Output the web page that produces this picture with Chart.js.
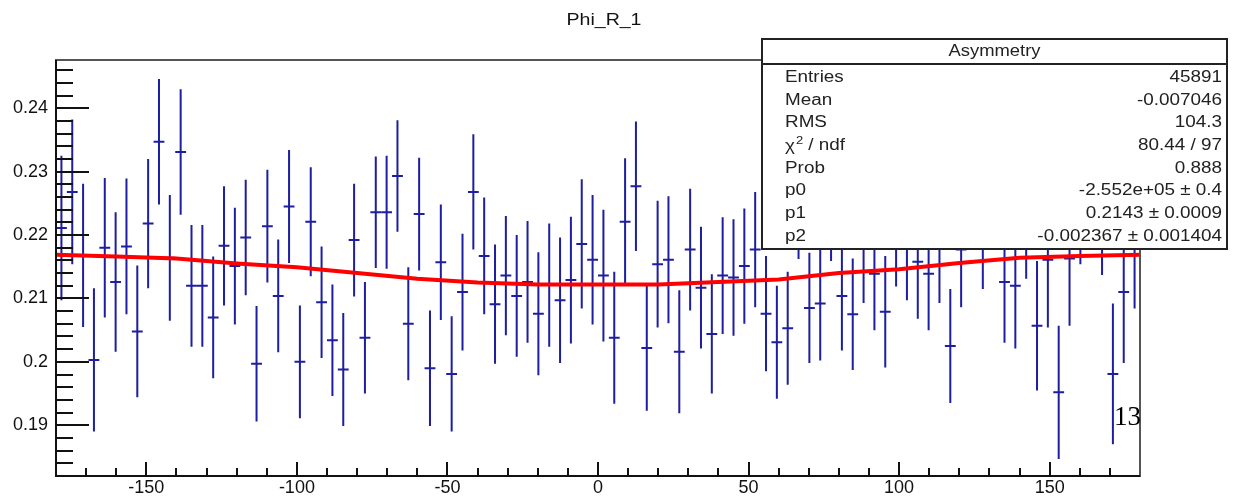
<!DOCTYPE html>
<html>
<head>
<meta charset="utf-8">
<title>Phi_R_1</title>
<script src="https://cdn.jsdelivr.net/npm/chart.js@4.4.1/dist/chart.umd.min.js"></script>
<style>
  html, body { margin: 0; padding: 0; background: #fff; }
  canvas { display: block; }
</style>
</head>
<body>
<canvas id="chart" width="1256" height="496"></canvas>
<script>
// =========================
// Histogram Phi_R_1 — 100 bins, -180..180
// =========================
const BIN_LOW = -180;
const BIN_WIDTH = 3.6;

// bin contents
const asymValues = [
  0.2211, 0.2268, 0.2168, 0.2003, 0.2180, 0.2126, 0.2182, 0.2048, 0.2218, 0.2347,
  0.2164, 0.2331, 0.2120, 0.2120, 0.2070, 0.2183, 0.2151, 0.2196, 0.1997, 0.2214,
  0.2104, 0.2245, 0.2000, 0.2221, 0.2094, 0.2034, 0.1988, 0.2192, 0.2038, 0.2236,
  0.2236, 0.2293, 0.2060, 0.2233, 0.1990, 0.2157, 0.1981, 0.2110, 0.2268, 0.2167,
  0.2091, 0.2136, 0.2104, 0.2126, 0.2076, 0.2121, 0.2097, 0.2129, 0.2186, 0.2161,
  0.2136, 0.2038, 0.2221, 0.2277, 0.2022, 0.2154, 0.2161, 0.2016, 0.2177, 0.2117,
  0.2044, 0.2136, 0.2133, 0.2151, 0.2177, 0.2076, 0.2031, 0.2053, 0.2251, 0.2085,
  0.2092, 0.2247, 0.2104, 0.2075, 0.2181, 0.2139, 0.2079, 0.2208, 0.2186, 0.2158,
  0.2139, 0.2183, 0.2025, 0.2177, 0.2285, 0.2207, 0.2290, 0.2126, 0.2120, 0.2230,
  0.2057, 0.2161, 0.1952, 0.2163, 0.2262, 0.2300, 0.2247, 0.1981, 0.2110, 0.2197
];

// bin errors
const asymErrors = [
  0.0114, 0.0114, 0.0113, 0.0113, 0.0110, 0.0110, 0.0107, 0.0104, 0.0102, 0.0099,
  0.0099, 0.0099, 0.0096, 0.0096, 0.0096, 0.0094, 0.0092, 0.0091, 0.0091, 0.0089,
  0.0089, 0.0089, 0.0089, 0.0086, 0.0088, 0.0088, 0.0089, 0.0089, 0.0088, 0.0088,
  0.0089, 0.0088, 0.0089, 0.0089, 0.0091, 0.0091, 0.0091, 0.0092, 0.0091, 0.0092,
  0.0094, 0.0094, 0.0096, 0.0096, 0.0097, 0.0097, 0.0099, 0.0100, 0.0102, 0.0102,
  0.0104, 0.0104, 0.0100, 0.0102, 0.0099, 0.0100, 0.0100, 0.0097, 0.0096, 0.0096,
  0.0094, 0.0092, 0.0092, 0.0091, 0.0091, 0.0091, 0.0089, 0.0089, 0.0089, 0.0087,
  0.0090, 0.0088, 0.0086, 0.0088, 0.0088, 0.0089, 0.0088, 0.0089, 0.0089, 0.0090,
  0.0089, 0.0090, 0.0090, 0.0091, 0.0092, 0.0092, 0.0094, 0.0096, 0.0099, 0.0099,
  0.0102, 0.0107, 0.0105, 0.0106, 0.0108, 0.0110, 0.0110, 0.0111, 0.0112, 0.0113
];

// fitted curve, sampled off the red line
const fitPhi = [-180, -160, -140, -120, -100, -80, -60, -40, -20, 0, 20, 40, 60, 80, 100, 120, 140, 160, 180];
const fitValues = [0.2169, 0.2166, 0.2163, 0.2155, 0.2149, 0.2140, 0.2131, 0.2125, 0.2122, 0.2122,
                   0.2122, 0.2126, 0.2130, 0.2140, 0.2146, 0.2156, 0.2164, 0.2167, 0.2169];

// axes
const xTickValues = [-150, -100, -50, 0, 50, 100, 150];
const xTickLabels = ["-150", "-100", "-50", "0", "50", "100", "150"];
const yTickValues = [0.19, 0.20, 0.21, 0.22, 0.23, 0.24];
const yTickLabels = ["0.19", "0.2", "0.21", "0.22", "0.23", "0.24"];

// stats box
const statsTitle = "Asymmetry";
const statsLabels = ["Entries", "Mean", "RMS", "chi2", "Prob", "p0", "p1", "p2"];
const statsValues = ["45891", "-0.007046", "104.3", "80.44 / 97", "0.888",
                     "-2.552e+05 \u00b1 0.4", "0.2143 \u00b1 0.0009", "-0.002367 \u00b1 0.001404"];

const FONT = '"Liberation Sans", Arial, Helvetica, sans-serif';
const HIST_COLOR = "#1e1ea0";

const histPoints = asymValues.map((v, i) => ({ x: BIN_LOW + BIN_WIDTH * (i + 0.5), y: v }));
const fitPoints = fitPhi.map((p, i) => ({ x: p, y: fitValues[i] }));

// stretched text helper (the original render is slightly wide)
function wideText(ctx, text, x, y, size, align, sx) {
  ctx.save();
  ctx.font = size + "px " + FONT;
  ctx.textBaseline = "middle";
  ctx.textAlign = align;
  ctx.translate(x, y);
  ctx.scale(sx, 1);
  ctx.fillText(text, 0, 0);
  ctx.restore();
}

// =========================
// ERROR BARS (under the fit line)
// =========================
const errorBars = {
  id: "errorBars",
  beforeDatasetsDraw(chart) {
    const { ctx, chartArea, scales: { x, y } } = chart;
    ctx.save();
    ctx.beginPath();
    ctx.rect(chartArea.left, chartArea.top, chartArea.right - chartArea.left, chartArea.bottom - chartArea.top);
    ctx.clip();
    ctx.strokeStyle = HIST_COLOR;
    ctx.lineWidth = 2;
    histPoints.forEach((p, i) => {
      const px = x.getPixelForValue(p.x);
      const x0 = x.getPixelForValue(p.x - BIN_WIDTH / 2);
      const x1 = x.getPixelForValue(p.x + BIN_WIDTH / 2);
      const py = y.getPixelForValue(p.y);
      const yTop = y.getPixelForValue(p.y + asymErrors[i]);
      const yBot = y.getPixelForValue(p.y - asymErrors[i]);
      ctx.beginPath();
      ctx.moveTo(px, yTop);
      ctx.lineTo(px, yBot);
      ctx.moveTo(x0, py);
      ctx.lineTo(x1, py);
      ctx.stroke();
    });
    ctx.restore();
  }
};

// =========================
// FRAME, TICKS, STATS BOX, TITLE
// =========================
const decorations = {
  id: "decorations",
  afterDraw(chart) {
    const { ctx, chartArea: a, scales: { x, y } } = chart;
    ctx.save();

    // frame
    ctx.strokeStyle = "#555";
    ctx.lineWidth = 2;
    ctx.strokeRect(a.left, a.top, a.right - a.left, a.bottom - a.top);
    ctx.strokeStyle = "#111";
    ctx.beginPath();
    ctx.moveTo(a.left, a.top);
    ctx.lineTo(a.left, a.bottom);
    ctx.lineTo(a.right, a.bottom);
    ctx.stroke();

    // y ticks every 0.002, pointing in
    ctx.lineWidth = 2;
    for (let k = 91; k <= 123; k++) {
      const py = Math.round(y.getPixelForValue(k * 0.002));
      if (py < a.top || py > a.bottom) continue;
      const len = k % 5 === 0 ? 33 : 17;
      ctx.beginPath();
      ctx.moveTo(a.left, py);
      ctx.lineTo(a.left + len, py);
      ctx.stroke();
    }
    // x ticks every 10, pointing up
    for (let k = -17; k <= 17; k++) {
      const px = Math.round(x.getPixelForValue(k * 10));
      const len = k % 5 === 0 ? 14 : 8;
      ctx.beginPath();
      ctx.moveTo(px, a.bottom);
      ctx.lineTo(px, a.bottom - len);
      ctx.stroke();
    }

    // stats box
    const bx = 762, by = 39, bw = 465, bh = 210;
    ctx.fillStyle = "#fff";
    ctx.fillRect(bx, by, bw, bh);
    ctx.strokeStyle = "#222";
    ctx.lineWidth = 2;
    ctx.strokeRect(bx, by, bw, bh);
    ctx.beginPath();
    ctx.moveTo(bx, 64);
    ctx.lineTo(bx + bw, 64);
    ctx.stroke();

    ctx.fillStyle = "#222";
    wideText(ctx, statsTitle, bx + bw / 2, 52, 16, "center", 1.15);
    statsLabels.forEach((lab, i) => {
      const ry = 77.5 + 22.7 * i;
      if (lab === "chi2") {
        ctx.save();
        ctx.font = "16px " + FONT;
        const sx = 1.18;
        const wChi = ctx.measureText("\u03c7").width * sx;
        wideText(ctx, "\u03c7", 785, ry + 1, 16, "left", sx);
        wideText(ctx, "2", 785 + wChi + 1, ry - 5, 11, "left", sx);
        ctx.font = "11px " + FONT;
        const w2 = ctx.measureText("2").width * sx;
        wideText(ctx, " / ndf", 785 + wChi + w2 + 1, ry, 16, "left", sx);
        ctx.restore();
      } else {
        wideText(ctx, lab, 785, ry, 16, "left", 1.18);
      }
      wideText(ctx, statsValues[i], 1222, ry, 16, "right", 1.18);
    });

    // title
    ctx.fillStyle = "#111";
    wideText(ctx, "Phi_R_1", 604, 20, 17, "center", 1.15);

    // page number from the slide
    ctx.fillStyle = "#000";
    ctx.font = '27px "Liberation Serif", "DejaVu Serif", serif';
    ctx.textAlign = "left";
    ctx.textBaseline = "alphabetic";
    ctx.fillText("13", 1114, 425);

    ctx.restore();
  }
};

// =========================
// CHART
// =========================
const ctx = document.getElementById("chart").getContext("2d");

new Chart(ctx, {
  type: "scatter",
  data: {
    datasets: [
      {
        label: "Asymmetry",
        data: histPoints,
        pointRadius: 0,
        showLine: false
      },
      {
        label: "fit",
        type: "line",
        data: fitPoints,
        borderColor: "#ff0000",
        borderWidth: 4,
        pointRadius: 0,
        fill: false,
        tension: 0
      }
    ]
  },
  options: {
    responsive: false,
    animation: false,
    devicePixelRatio: 1,
    layout: { padding: { top: 60, right: 116, left: 0, bottom: 0 } },
    plugins: {
      legend: { display: false },
      tooltip: { enabled: false },
      title: { display: false }
    },
    scales: {
      x: {
        type: "linear",
        min: -180,
        max: 180,
        afterFit(s) { s.height = 20; },
        afterBuildTicks(s) { s.ticks = xTickValues.map(v => ({ value: v })); },
        ticks: {
          callback: (v, i) => xTickLabels[i],
          font: { family: FONT, size: 18 },
          color: "#111",
          padding: 1,
          maxRotation: 0,
          autoSkip: false
        },
        grid: { display: false, drawTicks: false },
        border: { display: false }
      },
      y: {
        type: "linear",
        min: 0.1820,
        max: 0.2476,
        afterFit(s) { s.width = 56; },
        afterBuildTicks(s) { s.ticks = yTickValues.map(v => ({ value: v })); },
        ticks: {
          callback: (v, i) => yTickLabels[i],
          font: { family: FONT, size: 18 },
          color: "#111",
          padding: 8,
          autoSkip: false
        },
        grid: { display: false, drawTicks: false },
        border: { display: false }
      }
    }
  },
  plugins: [errorBars, decorations]
});
</script>
</body>
</html>
